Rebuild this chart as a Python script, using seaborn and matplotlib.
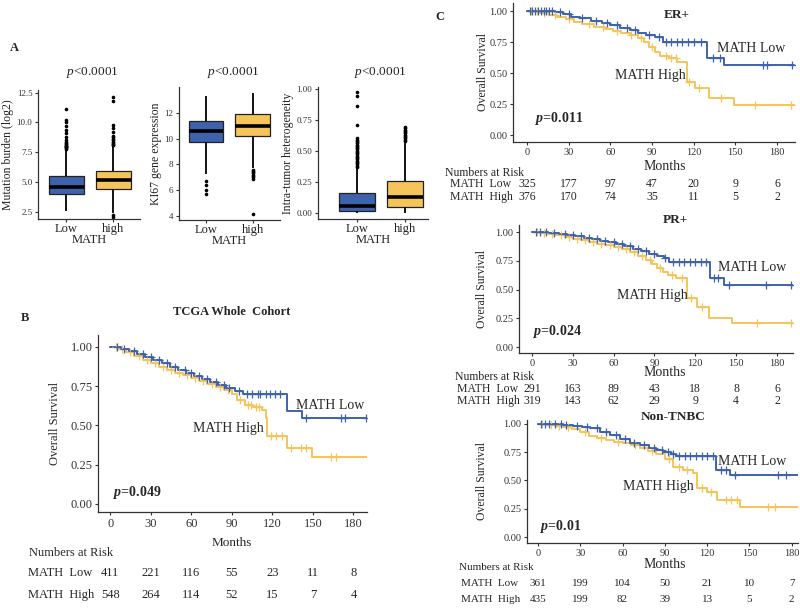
import numpy as np
import pandas as pd
import matplotlib
matplotlib.use("Agg")
import matplotlib.pyplot as plt
import seaborn as sns
from matplotlib.transforms import blended_transform_factory

#%% DATOS
BLUE = "#3f62ad"
YELLOW = "#f5c45a"

# panel A: five number summaries (whisker low, q1, median, q3, whisker high) + outliers
mb_low = [2.6, 4.0, 4.6, 5.5, 7.7]
mb_low_out_hi = [7.8, 7.85, 7.9, 7.95, 8.0, 8.05, 8.1, 8.2, 8.3, 8.4, 8.5, 8.8, 9.1, 9.4, 9.7, 10.0, 10.2, 11.1]
mb_low_out_lo = []
mb_high = [2.4, 4.45, 5.15, 5.9, 8.0]
mb_high_out_hi = [8.1, 8.15, 8.2, 8.3, 8.4, 8.5, 8.6, 8.75, 8.9, 9.2, 9.5, 9.8, 11.8, 12.1]
mb_high_out_lo = [2.1, 2.2]

ki_low = [7.25, 9.7, 10.57, 11.35, 13.3]
ki_low_out_hi = []
ki_low_out_lo = [5.7, 6.05, 6.4, 6.7]
ki_high = [7.7, 10.18, 11.0, 11.87, 13.5]
ki_high_out_hi = []
ki_high_out_lo = [4.15, 6.9, 7.0, 7.1, 7.2, 7.3, 7.4, 7.5, 7.6]

ith_low = [0.0, 0.016, 0.054, 0.156, 0.36]
ith_low_out_hi = [0.37, 0.38, 0.39, 0.40, 0.41, 0.42, 0.43, 0.44, 0.45, 0.46, 0.47, 0.48, 0.49, 0.50,
                  0.51, 0.52, 0.53, 0.54, 0.55, 0.56, 0.57, 0.58, 0.59, 0.60, 0.71, 0.86, 0.94, 0.97]
ith_low_out_lo = []
ith_high = [0.0, 0.048, 0.124, 0.258, 0.57]
ith_high_out_hi = [0.58, 0.59, 0.60, 0.61, 0.62, 0.63, 0.64, 0.65, 0.66, 0.67, 0.68, 0.69]
ith_high_out_lo = []

grupos = ["Low", "high"]
ylabels_a = ["Mutation burden (log2)", "KI67 gene expression", "Intra-tumor heterogeneity"]

# panel B / C: Kaplan-Meier steps (months, survival), censor times
meses = [0, 30, 60, 90, 120, 150, 180]

b_low_t = [0, 8, 14, 20, 26, 32, 38, 44, 50, 56, 62, 68, 74, 80, 86, 92, 98, 131, 142]
b_low_s = [1.0, 0.99, 0.975, 0.955, 0.935, 0.915, 0.895, 0.875, 0.855, 0.835, 0.815, 0.795, 0.775, 0.757, 0.74, 0.72, 0.70, 0.59, 0.546]
b_low_c = [5, 10, 18, 24, 30, 36, 42, 48, 55, 60, 66, 72, 78, 84, 88, 95, 101, 105, 109, 111, 115, 118, 122, 126, 145, 171, 174, 189]
b_high_t = [0, 6, 12, 18, 24, 30, 36, 42, 48, 54, 60, 66, 72, 78, 84, 90, 94, 100, 106, 112, 115, 116, 131, 149]
b_high_s = [1.0, 0.985, 0.965, 0.945, 0.92, 0.895, 0.87, 0.85, 0.835, 0.82, 0.805, 0.785, 0.765, 0.745, 0.725, 0.70, 0.66, 0.63, 0.615, 0.60, 0.55, 0.43, 0.355, 0.30]
b_high_c = [4, 9, 15, 21, 27, 33, 39, 45, 51, 57, 63, 69, 75, 81, 87, 96, 102, 104, 108, 110, 119, 123, 127, 134, 141, 145, 163, 167]
b_risk_low = [411, 221, 116, 55, 23, 11, 8]
b_risk_high = [548, 264, 114, 52, 15, 7, 4]

er_low_t = [0, 20, 26, 32, 38, 46, 54, 60, 67, 74, 80, 86, 92, 98, 130, 142]
er_low_s = [1.0, 0.99, 0.975, 0.955, 0.94, 0.92, 0.90, 0.887, 0.865, 0.847, 0.825, 0.806, 0.793, 0.753, 0.618, 0.565]
er_low_c = [2, 4, 6, 8, 10, 12, 14, 16, 18, 24, 30, 40, 50, 58, 65, 72, 78, 88, 95, 100, 104, 108, 112, 116, 120, 125, 134, 139, 170, 173, 191]
er_high_t = [0, 8, 16, 22, 28, 34, 40, 48, 56, 62, 68, 74, 80, 84, 88, 92, 96, 102, 108, 115, 121, 131, 149]
er_high_s = [1.0, 0.985, 0.97, 0.955, 0.935, 0.915, 0.895, 0.875, 0.855, 0.84, 0.825, 0.806, 0.78, 0.753, 0.71, 0.67, 0.64, 0.618, 0.59, 0.43, 0.376, 0.296, 0.245]
er_high_c = [3, 7, 12, 20, 30, 45, 55, 65, 75, 82, 90, 100, 104, 107, 117, 124, 140, 164, 190]
er_risk_low = [325, 177, 97, 47, 20, 9, 6]
er_risk_high = [376, 170, 74, 35, 11, 5, 2]

pr_low_t = [0, 12, 20, 26, 32, 38, 44, 50, 56, 62, 68, 74, 80, 86, 92, 97, 101, 131, 141]
pr_low_s = [1.0, 0.995, 0.985, 0.975, 0.965, 0.95, 0.94, 0.925, 0.91, 0.895, 0.875, 0.855, 0.835, 0.81, 0.79, 0.77, 0.742, 0.597, 0.539]
pr_low_c = [3, 6, 10, 16, 24, 30, 36, 42, 48, 54, 60, 66, 72, 78, 84, 90, 98, 104, 108, 112, 116, 120, 124, 128, 134, 137, 145, 172, 190]
pr_high_t = [0, 6, 12, 18, 24, 30, 36, 42, 48, 54, 60, 66, 72, 78, 84, 88, 92, 96, 100, 106, 114, 121, 130, 147]
pr_high_s = [1.0, 0.99, 0.98, 0.97, 0.955, 0.94, 0.93, 0.915, 0.90, 0.885, 0.867, 0.85, 0.83, 0.795, 0.757, 0.72, 0.69, 0.655, 0.625, 0.597, 0.423, 0.35, 0.249, 0.206]
pr_high_c = [4, 9, 15, 21, 27, 33, 39, 45, 51, 57, 63, 69, 75, 81, 87, 94, 103, 110, 117, 125, 165, 190]
pr_risk_low = [291, 163, 89, 43, 18, 8, 6]
pr_risk_high = [319, 143, 62, 29, 9, 4, 2]

nt_low_t = [0, 18, 25, 31, 37, 44, 51, 58, 65, 72, 79, 84, 89, 94, 98, 126, 136]
nt_low_s = [1.0, 0.99, 0.98, 0.97, 0.96, 0.93, 0.90, 0.868, 0.835, 0.81, 0.785, 0.77, 0.755, 0.735, 0.72, 0.593, 0.548]
nt_low_c = [2, 5, 8, 12, 16, 20, 28, 35, 42, 48, 55, 62, 68, 75, 82, 88, 92, 96, 100, 104, 108, 112, 116, 120, 124, 130, 133, 140, 170, 176, 188]
nt_high_t = [0, 6, 12, 18, 24, 30, 36, 42, 48, 54, 60, 66, 72, 78, 84, 90, 96, 103, 110, 113, 120, 127, 143]
nt_high_s = [1.0, 0.99, 0.985, 0.976, 0.955, 0.93, 0.895, 0.875, 0.855, 0.84, 0.83, 0.812, 0.79, 0.765, 0.73, 0.69, 0.62, 0.59, 0.57, 0.43, 0.40, 0.327, 0.268]
nt_high_c = [3, 9, 15, 21, 33, 45, 57, 69, 81, 93, 100, 106, 116, 123, 133, 137, 141, 163, 168, 190]
nt_risk_low = [361, 199, 104, 50, 21, 10, 7]
nt_risk_high = [435, 199, 82, 39, 13, 5, 2]

#%% ESTILO
sns.set_style("ticks")
plt.rcParams["font.family"] = ["Liberation Serif", "DejaVu Serif"]
plt.rcParams["mathtext.fontset"] = "custom"
plt.rcParams["mathtext.rm"] = "Liberation Serif"
plt.rcParams["mathtext.it"] = "Liberation Serif:italic"
plt.rcParams["mathtext.bf"] = "Liberation Serif:bold"
plt.rcParams["mathtext.bfit"] = "Liberation Serif:italic:bold"

W, H = 800, 611
fig = plt.figure(figsize=(8, 6.11), dpi=100)


def rect(l, t, r, b):
    return [l / W, 1 - b / H, (r - l) / W, (b - t) / H]


def ftext(x, y, s, **kw):
    fig.text(x / W, 1 - y / H, s, **kw)


# arma una muestra cuyos cuartiles y bigotes coinciden con el resumen
def box_sample(stats, out_lo, out_hi):
    wlo, q1, med, q3, whi = stats
    lo = sorted(out_lo) + [wlo]
    hi = [whi] + sorted(out_hi)
    m = max(len(lo), len(hi)) + 1
    vals = lo + [q1] * (m - len(lo)) + [q1] + [med] * (m - 1) + [med] + [med] * (m - 1) + [q3] + [q3] * (m - len(hi)) + hi
    return vals


def estilo_ejes(ax, fs):
    sns.despine(ax=ax)
    for sp in ["left", "bottom"]:
        ax.spines[sp].set_color("#333333")
        ax.spines[sp].set_linewidth(0.9)
    ax.tick_params(axis="both", length=2.5, width=0.8, color="#333333", labelcolor="#333333", labelsize=fs, pad=1.5)


#%% PANEL A
box_pos = [(38, 90, 140, 219), (179, 87, 280, 220), (318, 87, 428, 219)]
box_ylim = [(1.89, 12.73), (3.69, 13.99), (-0.051, 1.014)]
box_xlim = [(-0.6, 1.57), (-0.58, 1.59), (-0.8, 1.47)]
box_yticks = [[2.5, 5, 7.5, 10, 12.5], [4, 6, 8, 10, 12], [0, 0.25, 0.5, 0.75, 1.0]]
box_yticklabels = [["2.5", "5.0", "7.5", "10.0", "12.5"], ["4", "6", "8", "10", "12"], ["0.00", "0.25", "0.50", "0.75", "1.00"]]
box_data = [
    (mb_low, mb_low_out_lo, mb_low_out_hi, mb_high, mb_high_out_lo, mb_high_out_hi),
    (ki_low, ki_low_out_lo, ki_low_out_hi, ki_high, ki_high_out_lo, ki_high_out_hi),
    (ith_low, ith_low_out_lo, ith_low_out_hi, ith_high, ith_high_out_lo, ith_high_out_hi),
]
title_x = [92, 233, 380]

for i in range(3):
    ax = fig.add_axes(rect(*box_pos[i]))
    lo_s, lo_ol, lo_oh, hi_s, hi_ol, hi_oh = box_data[i]
    v_low = box_sample(lo_s, lo_ol, lo_oh)
    v_high = box_sample(hi_s, hi_ol, hi_oh)
    df = pd.DataFrame({"MATH": ["Low"] * len(v_low) + ["high"] * len(v_high), "valor": v_low + v_high})
    sns.boxplot(data=df, x="MATH", y="valor", hue="MATH", order=grupos, hue_order=grupos,
                palette={"Low": BLUE, "high": YELLOW}, saturation=1, width=0.75, linewidth=0.9,
                linecolor="#222222", fliersize=1.6, showcaps=False,
                flierprops=dict(marker="o", markerfacecolor="black", markeredgecolor="black"),
                medianprops=dict(color="black", linewidth=2.6),
                whiskerprops=dict(color="black", linewidth=1.3),
                legend=False, ax=ax)
    ax.set_xlim(*box_xlim[i])
    ax.set_ylim(*box_ylim[i])
    ax.set_yticks(box_yticks[i])
    ax.set_yticklabels(box_yticklabels[i])
    estilo_ejes(ax, 6.5)
    ax.tick_params(axis="x", labelsize=9, labelcolor="#222222", pad=0.5)
    ax.set_xlabel("MATH", fontsize=9, labelpad=-1, color="#222222")
    ax.set_ylabel(ylabels_a[i], fontsize=8.5, labelpad=2, color="#222222")
    ftext(title_x[i], 72, "$p$<0.0001", fontsize=9.5, ha="center", va="center", color="#222222")

ftext(14, 48, "A", fontsize=9, fontweight="bold", ha="center", va="center")
ftext(25, 318, "B", fontsize=9, fontweight="bold", ha="center", va="center")
ftext(440, 17, "C", fontsize=9, fontweight="bold", ha="center", va="center")


#%% KAPLAN-MEIER
def draw_km(pos, xlim, ylim, low, high, tick_fs, ms):
    ax = fig.add_axes(rect(*pos))
    for t, s, cens, col in [high, low]:
        tt = list(t) + [192]
        ss = list(s) + [s[-1]]
        sns.lineplot(x=tt, y=ss, drawstyle="steps-post", color=col, linewidth=1.4,
                     estimator=None, sort=False, ax=ax)
        idx = np.searchsorted(t, cens, side="right") - 1
        cy = np.array(s)[idx]
        sns.scatterplot(x=cens, y=cy, marker="+", s=ms, color=col, linewidth=0.9, ax=ax, zorder=3)
    ax.set_xlim(*xlim)
    ax.set_ylim(*ylim)
    ax.set_xticks(meses)
    ax.set_yticks([0, 0.25, 0.5, 0.75, 1.0])
    ax.set_yticklabels(["0.00", "0.25", "0.50", "0.75", "1.00"])
    ax.set_xlabel("")
    ax.set_ylabel("")
    estilo_ejes(ax, tick_fs)
    return ax


def risk_table(ax, head, lab_x, y_low, y_high, r_low, r_high, fs):
    ftext(head[0], head[1], "Numbers at Risk", fontsize=fs, ha="left", va="center")
    ftext(lab_x, y_low, "MATH  Low", fontsize=fs, ha="left", va="center")
    ftext(lab_x, y_high, "MATH  High", fontsize=fs, ha="left", va="center")
    tr = blended_transform_factory(ax.transData, fig.transFigure)
    for t, n1, n2 in zip(meses, r_low, r_high):
        ax.text(t, 1 - y_low / H, str(n1), transform=tr, ha="center", va="center", fontsize=fs)
        ax.text(t, 1 - y_high / H, str(n2), transform=tr, ha="center", va="center", fontsize=fs)


# B
axb = draw_km((98, 335, 367, 512), (-9, 190), (-0.051, 1.076),
              (b_low_t, b_low_s, b_low_c, BLUE), (b_high_t, b_high_s, b_high_c, YELLOW), 9, 34)
axb.text(137.8, 0.63, "MATH Low", fontsize=10, va="center", ha="left")
axb.text(61.5, 0.478, "MATH High", fontsize=10, va="center", ha="left")
axb.text(2, 0.07, r"$\mathbfit{p}$=0.049", fontsize=10, fontweight="bold", va="center", ha="left")
ftext(232, 312, "TCGA Whole  Cohort", fontsize=9, fontweight="bold", ha="center", va="center")
ftext(232, 543, "Months", fontsize=9.5, ha="center", va="center")
ftext(55, 423, "Overall Survival", fontsize=9, rotation=90, ha="center", va="center")
risk_table(axb, (29, 553), 28, 573, 595, b_risk_low, b_risk_high, 9)

# ER+
axe = draw_km((513, 3, 795, 142), (-10, 193), (-0.056, 1.065),
              (er_low_t, er_low_s, er_low_c, BLUE), (er_high_t, er_high_s, er_high_c, YELLOW), 7.5, 26)
axe.text(136.8, 0.70, "MATH Low", fontsize=10, va="center", ha="left")
axe.text(63.4, 0.484, "MATH High", fontsize=10, va="center", ha="left")
axe.text(5.8, 0.137, r"$\mathbfit{p}$=0.011", fontsize=10, fontweight="bold", va="center", ha="left")
ftext(677, 15, "ER+", fontsize=9.5, fontweight="bold", ha="center", va="center")
ftext(665, 167, "Months", fontsize=10, ha="center", va="center")
ftext(483, 72, "Overall Survival", fontsize=8.5, rotation=90, ha="center", va="center")
risk_table(axe, (445, 173), 450, 184, 197, er_risk_low, er_risk_high, 8.5)

# PR+
axp = draw_km((519, 225, 793, 353), (-9.5, 191.8), (-0.052, 1.061),
              (pr_low_t, pr_low_s, pr_low_c, BLUE), (pr_high_t, pr_high_s, pr_high_c, YELLOW), 7.5, 26)
axp.text(136.9, 0.693, "MATH Low", fontsize=10, va="center", ha="left")
axp.text(62.2, 0.452, "MATH High", fontsize=10, va="center", ha="left")
axp.text(0.7, 0.133, r"$\mathbfit{p}$=0.024", fontsize=10, fontweight="bold", va="center", ha="left")
ftext(675, 220, "PR+", fontsize=9.5, fontweight="bold", ha="center", va="center")
ftext(665, 373, "Months", fontsize=10, ha="center", va="center")
ftext(482, 289, "Overall Survival", fontsize=8.5, rotation=90, ha="center", va="center")
risk_table(axp, (455, 377), 457, 389, 401, pr_risk_low, pr_risk_high, 8.5)

# Non-TNBC
axn = draw_km((527, 420, 798, 543), (-7.8, 184.4), (-0.053, 1.035),
              (nt_low_t, nt_low_s, nt_low_c, BLUE), (nt_high_t, nt_high_s, nt_high_c, YELLOW), 7.5, 26)
axn.text(127.8, 0.666, "MATH Low", fontsize=10, va="center", ha="left")
axn.text(60, 0.451, "MATH High", fontsize=10, va="center", ha="left")
axn.text(1.4, 0.09, r"$\mathbfit{p}$=0.01", fontsize=10, fontweight="bold", va="center", ha="left")
ftext(673, 417, "Non-TNBC", fontsize=9.5, fontweight="bold", ha="center", va="center")
ftext(665, 565, "Months", fontsize=10, ha="center", va="center")
ftext(482, 481, "Overall Survival", fontsize=8.5, rotation=90, ha="center", va="center")
risk_table(axn, (459, 568), 461, 583, 599, nt_risk_low, nt_risk_high, 8)

plt.savefig("out.png", dpi=100)
